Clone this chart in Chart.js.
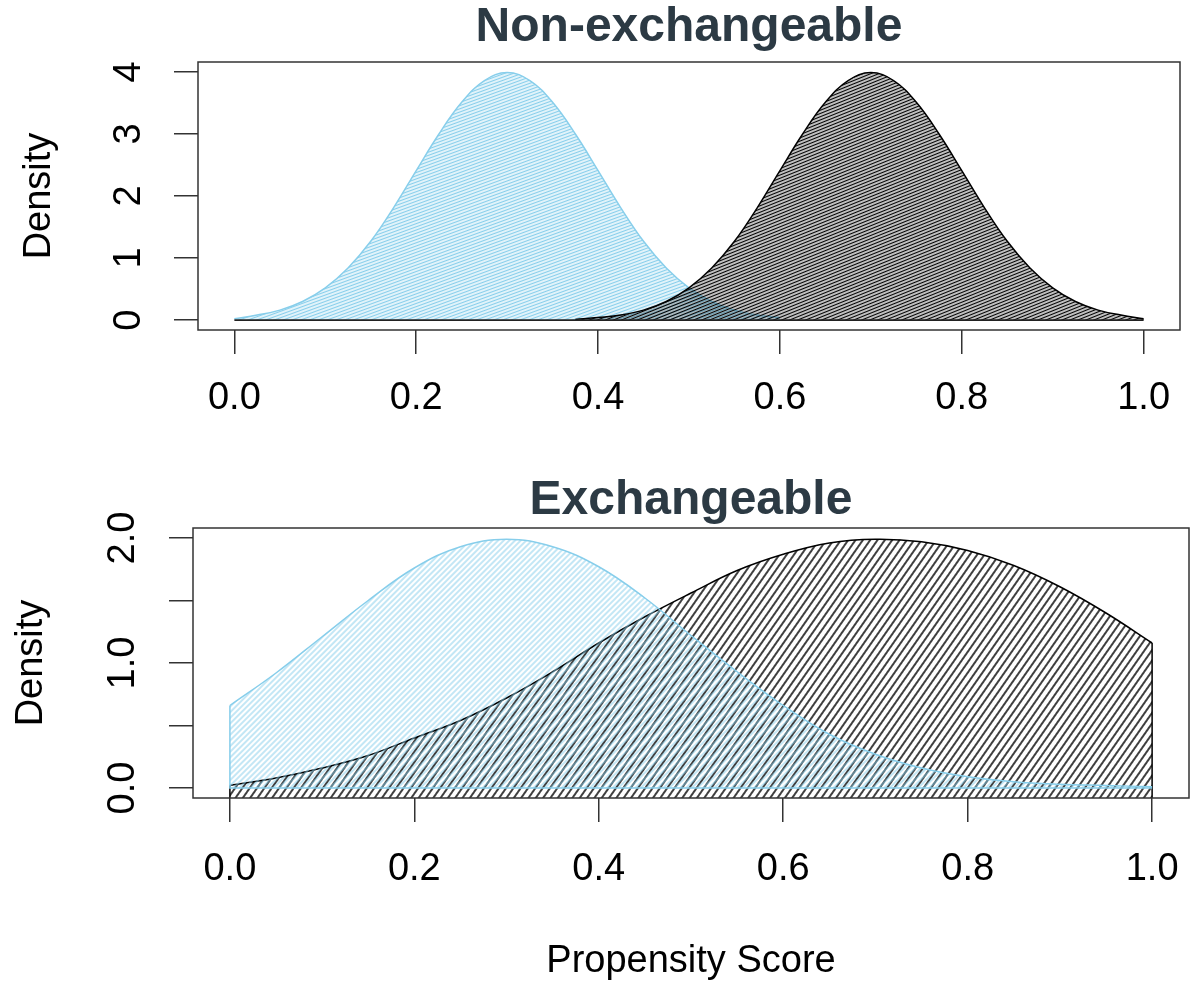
<!DOCTYPE html>
<html>
<head>
<meta charset="utf-8">
<title>Propensity score overlap</title>
<script src="https://cdn.jsdelivr.net/npm/chart.js@4.4.0/dist/chart.umd.min.js"></script>
<style>
  html, body { margin: 0; padding: 0; background: #ffffff; }
  body { width: 1191px; height: 984px; position: relative; overflow: hidden; }
  canvas { position: absolute; left: 0; }
  #top-chart { top: 0; }
  #bottom-chart { top: 470px; }
</style>
</head>
<body>
<canvas id="top-chart" width="1191" height="470"></canvas>
<canvas id="bottom-chart" width="1191" height="514"></canvas>
<script>
// shared x axis
const xTicks = [0, 0.2, 0.4, 0.6, 0.8, 1.0];
const xTickLabels = ['0.0', '0.2', '0.4', '0.6', '0.8', '1.0'];

// Non-exchangeable panel
const topYTicks = [0, 1, 2, 3, 4];
const topYTickLabels = ['0', '1', '2', '3', '4'];
const topBlueX = [0, 0.025, 0.05, 0.075, 0.1, 0.125, 0.15, 0.175, 0.2, 0.225, 0.25, 0.275, 0.3,
  0.325, 0.35, 0.375, 0.4, 0.425, 0.45, 0.475, 0.5, 0.525, 0.55, 0.575, 0.6];
const topBlueDensity = [0.02, 0.08, 0.16, 0.30, 0.52, 0.84, 1.27, 1.81, 2.41, 3.00, 3.51, 3.86, 3.99,
  3.86, 3.51, 3.00, 2.41, 1.81, 1.27, 0.84, 0.52, 0.30, 0.16, 0.08, 0.04];
const topBlackX = [0.375, 0.4, 0.425, 0.45, 0.475, 0.5, 0.525, 0.55, 0.575, 0.6, 0.625, 0.65, 0.675, 0.7,
  0.725, 0.75, 0.775, 0.8, 0.825, 0.85, 0.875, 0.9, 0.925, 0.95, 0.975, 1.0];
const topBlackDensity = [0.01, 0.04, 0.08, 0.16, 0.30, 0.52, 0.84, 1.27, 1.81, 2.41, 3.00, 3.51, 3.86, 3.99,
  3.86, 3.51, 3.00, 2.41, 1.81, 1.27, 0.84, 0.52, 0.30, 0.16, 0.08, 0.02];

// Exchangeable panel
const bottomYTicks = [0, 0.5, 1, 1.5, 2];
const bottomYTickLabels = ['0.0', '', '1.0', '', '2.0'];
const bottomX = [0, 0.05, 0.1, 0.15, 0.2, 0.25, 0.3, 0.35, 0.4, 0.45, 0.5,
  0.55, 0.6, 0.65, 0.7, 0.75, 0.8, 0.85, 0.9, 0.95, 1.0];
const bottomBlueDensity = [0.66, 0.92, 1.21, 1.50, 1.76, 1.93, 1.99, 1.93, 1.77, 1.52, 1.22,
  0.93, 0.66, 0.43, 0.27, 0.16, 0.09, 0.05, 0.03, 0.02, 0.01];
const bottomBlackDensity = [0.02, 0.08, 0.16, 0.26, 0.40, 0.54, 0.72, 0.93, 1.16, 1.37, 1.56,
  1.74, 1.87, 1.96, 1.99, 1.97, 1.90, 1.78, 1.61, 1.40, 1.16];

const FONT = '"Liberation Sans", Arial, sans-serif';
const SKY = '#87ceeb';
const INK = '#000000';
const FRAME = '#333333';
const TITLE_INK = '#2c3a44';

// diagonal shading like R's polygon(density=...)
function hatch(color, size, lineWidth, angle) {
  const tile = document.createElement('canvas');
  tile.width = 64;
  tile.height = size;
  const g = tile.getContext('2d');
  g.strokeStyle = color;
  g.lineWidth = lineWidth;
  g.beginPath();
  g.moveTo(0, size / 2);
  g.lineTo(64, size / 2);
  g.stroke();
  const pattern = g.createPattern(tile, 'repeat');
  pattern.setTransform(new DOMMatrix().rotateSelf(-angle));
  return pattern;
}

function points(xs, ys) {
  return xs.map((x, i) => ({ x, y: ys[i] }));
}

const framePlugin = {
  id: 'frame',
  afterDatasetsDraw(chart) {
    const { ctx, chartArea: a } = chart;
    ctx.save();
    ctx.strokeStyle = FRAME;
    ctx.lineWidth = 1.5;
    ctx.strokeRect(a.left, a.top, a.right - a.left, a.bottom - a.top);
    ctx.restore();
  }
};

function buildOptions(cfg) {
  return {
    responsive: false,
    animation: false,
    events: [],
    layout: { padding: { left: 0, right: cfg.rightPad, top: 0, bottom: 0 } },
    plugins: {
      legend: { display: false },
      tooltip: { enabled: false },
      title: {
        display: true,
        text: cfg.title,
        fullSize: false,
        color: TITLE_INK,
        font: { family: FONT, size: 48, weight: 'bold', lineHeight: 1 },
        padding: cfg.titlePad
      }
    },
    scales: {
      x: {
        type: 'linear',
        min: -0.04,
        max: 1.04,
        afterBuildTicks: (scale) => { scale.ticks = xTicks.map((v) => ({ value: v })); },
        afterFit: (scale) => {
          scale.height = cfg.xHeight;
          scale.paddingLeft = 0;
          scale.paddingRight = 0;
        },
        grid: { drawOnChartArea: false, tickLength: 24, color: FRAME, lineWidth: 1.5 },
        border: { display: false },
        ticks: {
          color: INK,
          font: { family: FONT, size: 38, lineHeight: 1.2 },
          padding: cfg.xPad,
          maxRotation: 0,
          autoSkip: false,
          callback: (v, i) => xTickLabels[i]
        },
        title: {
          display: !!cfg.xTitle,
          text: cfg.xTitle || '',
          color: INK,
          font: { family: FONT, size: 38, lineHeight: 1.2 },
          padding: { top: 0, bottom: 0 }
        }
      },
      y: {
        type: 'linear',
        min: cfg.yMin,
        max: cfg.yMax,
        afterBuildTicks: (scale) => { scale.ticks = cfg.yTicks.map((v) => ({ value: v })); },
        afterFit: (scale) => {
          scale.width = cfg.yWidth;
          scale.paddingTop = 0;
          scale.paddingBottom = 0;
        },
        grid: { drawOnChartArea: false, tickLength: 24, color: FRAME, lineWidth: 1.5 },
        border: { display: false },
        ticks: {
          color: INK,
          font: { family: FONT, size: 38, lineHeight: 1.2 },
          padding: cfg.yPad,
          minRotation: 90,
          maxRotation: 90,
          crossAlign: 'center',
          autoSkip: false,
          callback: (v, i) => cfg.yTickLabels[i]
        },
        title: {
          display: true,
          text: 'Density',
          color: INK,
          font: { family: FONT, size: 38, lineHeight: 1.2 },
          padding: { top: cfg.yTitlePad, bottom: 0 }
        }
      }
    }
  };
}

function curve(data, color, background, fill, width) {
  return {
    data,
    borderColor: color,
    backgroundColor: background,
    borderWidth: width,
    fill,
    tension: 0.4,
    pointRadius: 0,
    clip: 0
  };
}

function edge(data, color, width) {
  return {
    data,
    borderColor: color,
    borderWidth: width,
    fill: false,
    tension: 0,
    pointRadius: 0,
    spanGaps: false,
    clip: 0
  };
}

function createTopChart() {
  const element = document.getElementById('top-chart');
  return new Chart(element, {
    type: 'line',
    data: {
      datasets: [
        edge([{ x: xTicks[0], y: 0 }, { x: xTicks[xTicks.length - 1], y: 0 }], '#222222', 1.8),
        curve(points(topBlackX, topBlackDensity), INK, hatch(INK, 3, 1.5, 22), 'origin', 1.5),
        curve(points(topBlueX, topBlueDensity), SKY, hatch(SKY, 3, 1.7, 20), 'origin', 1.5)
      ]
    },
    options: buildOptions({
      title: 'Non-exchangeable',
      titlePad: { top: 4, bottom: 10 },
      rightPad: 11,
      xHeight: 140,
      xPad: 22,
      yWidth: 198,
      yPad: 34,
      yTitlePad: 17,
      yMin: -0.16,
      yMax: 4.16,
      yTicks: topYTicks,
      yTickLabels: topYTickLabels
    }),
    plugins: [framePlugin]
  });
}

function createBottomChart() {
  const element = document.getElementById('bottom-chart');
  const first = 0;
  const last = bottomX.length - 1;
  return new Chart(element, {
    type: 'line',
    data: {
      datasets: [
        edge([
          { x: bottomX[first], y: bottomBlueDensity[first] },
          { x: bottomX[first], y: 0 },
          { x: bottomX[last], y: 0 }
        ], SKY, 1.5),
        curve(points(bottomX, bottomBlueDensity), SKY, hatch(SKY, 4, 1, 45), 'origin', 1.5),
        edge([
          { x: bottomX[first], y: bottomBlackDensity[first] },
          { x: bottomX[first], y: -0.3 },
          { x: 0.5, y: null },
          { x: bottomX[last], y: -0.3 },
          { x: bottomX[last], y: bottomBlackDensity[last] }
        ], INK, 1.5),
        curve(points(bottomX, bottomBlackDensity), INK, hatch(INK, 6, 1.3, 55), 'start', 1.5)
      ]
    },
    options: buildOptions({
      title: 'Exchangeable',
      titlePad: { top: 7, bottom: 3 },
      rightPad: 2,
      xHeight: 186,
      xPad: 25,
      xTitle: 'Propensity Score',
      yWidth: 193,
      yPad: 19,
      yTitlePad: 9,
      yMin: -0.08,
      yMax: 2.08,
      yTicks: bottomYTicks,
      yTickLabels: bottomYTickLabels
    }),
    plugins: [framePlugin]
  });
}

createTopChart();
createBottomChart();
</script>
</body>
</html>
